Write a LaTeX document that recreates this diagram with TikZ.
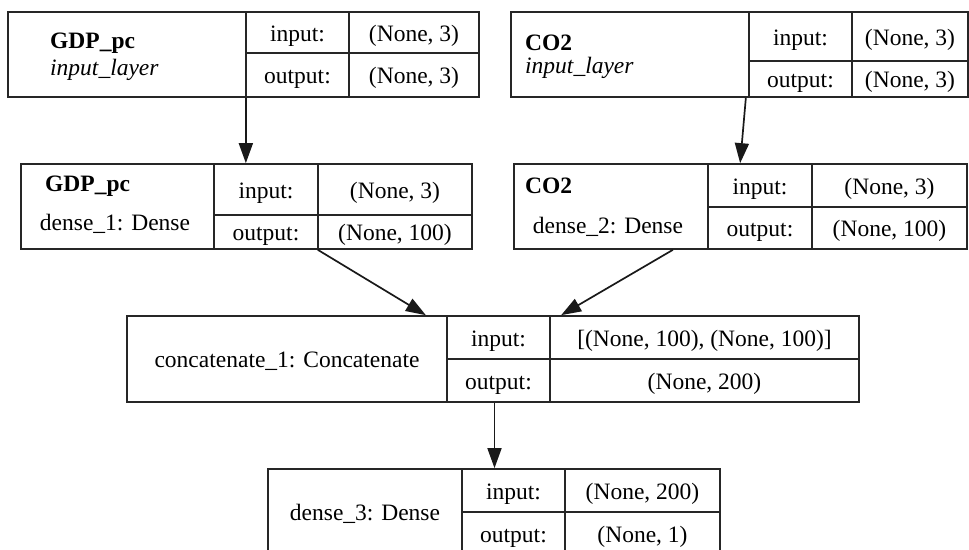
\documentclass[tikz,border=0pt]{standalone}
\usepackage{fontspec}
\setmainfont{Liberation Serif}
\usetikzlibrary{arrows.meta,calc}
\tikzset{
  cell/.style={draw=black!85, line width=1.7pt, inner sep=0pt, rectangle, text height=19pt, text depth=2pt, font=\fontsize{23.5}{26}\selectfont},
  lbl/.style={inner sep=0pt, font=\fontsize{23.5}{26}\selectfont},
  boldlbl/.style={lbl, font=\fontsize{23.5}{26}\selectfont\bfseries},
  itlbl/.style={lbl, font=\fontsize{23.5}{26}\selectfont\itshape},
  arr/.style={draw=black!90, line width=1.7pt, -{Triangle[length=20pt,width=14pt]}}
}
\newcommand\cellbox[6]{%
  \pgfmathsetmacro\cw{#4-#2}\pgfmathsetmacro\ch{#5-#3}%
  \node[cell, minimum width=\cw pt, minimum height=\ch pt] (#1) at ({(#2+#4)/2},{(#3+#5)/2}) {#6};}
\begin{document}
\begin{tikzpicture}[x=1pt,y=-1pt]
\useasboundingbox (0,0) rectangle (969,549);
% box 1: GDP_pc input
\cellbox{b1n}{8}{12}{246}{97}{}
\cellbox{b1i}{246}{12}{349}{53}{input:}
\cellbox{b1iv}{349}{12}{479}{53}{(None, 3)}
\cellbox{b1o}{246}{53}{349}{97}{output:}
\cellbox{b1ov}{349}{53}{479}{97}{(None, 3)}
\node[boldlbl, anchor=west] (t1a) at (50,43) {GDP\_pc};
\node[itlbl, anchor=west] (t1b) at (50,70) {input\_layer};
% box 2: CO2 input
\cellbox{b2n}{511}{12}{749}{97}{}
\cellbox{b2i}{749}{12}{852}{61}{input:}
\cellbox{b2iv}{852}{12}{968}{61}{(None, 3)}
\cellbox{b2o}{749}{61}{852}{97}{output:}
\cellbox{b2ov}{852}{61}{968}{97}{(None, 3)}
\node[boldlbl, anchor=west] (t2a) at (525,43) {CO2};
\node[itlbl, anchor=west] (t2b) at (525,68) {input\_layer};
% box 3: dense_1
\cellbox{b3n}{21}{164}{214}{249}{}
\cellbox{b3i}{214}{164}{318}{215}{input:}
\cellbox{b3iv}{318}{164}{472}{215}{(None, 3)}
\cellbox{b3o}{214}{215}{318}{249}{output:}
\cellbox{b3ov}{318}{215}{472}{249}{(None, 100)}
\node[boldlbl, anchor=west] (t3a) at (45,186) {GDP\_pc};
\node[lbl] (t3b) at (115,224) {dense\_1: Dense};
% box 4: dense_2
\cellbox{b4n}{514}{164}{708}{249}{}
\cellbox{b4i}{708}{164}{812}{207}{input:}
\cellbox{b4iv}{812}{164}{967}{207}{(None, 3)}
\cellbox{b4o}{708}{207}{812}{249}{output:}
\cellbox{b4ov}{812}{207}{967}{249}{(None, 100)}
\node[boldlbl, anchor=west] (t4a) at (525,186) {CO2};
\node[lbl] (t4b) at (608,227) {dense\_2: Dense};
% box 5: concatenate
\cellbox{b5n}{127}{316}{447}{402}{concatenate\_1: Concatenate}
\cellbox{b5i}{447}{316}{550}{359}{input:}
\cellbox{b5v}{550}{316}{859}{359}{[(None, 100), (None, 100)]}
\cellbox{b5o}{447}{359}{550}{402}{output:}
\cellbox{b5ov}{550}{359}{859}{402}{(None, 200)}
% box 6: dense_3
\cellbox{b6n}{268}{469}{462}{555}{dense\_3: Dense}
\cellbox{b6i}{462}{469}{565}{512}{input:}
\cellbox{b6iv}{565}{469}{720}{512}{(None, 200)}
\cellbox{b6o}{462}{512}{565}{555}{output:}
\cellbox{b6ov}{565}{512}{720}{555}{(None, 1)}
% connectors
\draw[arr] ([xshift=-1pt]b1n.south east) -- ([xshift=-1pt]b1n.south east |- b3i.north);
\draw[arr] ([xshift=-4pt]b2n.south east) -- ([xshift=33pt]b4i.north west);
\draw[arr] ([xshift=-1pt]b3o.south east) -- ([xshift=-22pt]b5n.north east);
\draw[arr] ([xshift=-36pt]b4n.south east) -- ([xshift=12pt]b5v.north west);
\draw[arr] ([xshift=-4pt]b5o.south) -- ([xshift=-4pt]b5o.south |- b6i.north);
\end{tikzpicture}
\end{document}
